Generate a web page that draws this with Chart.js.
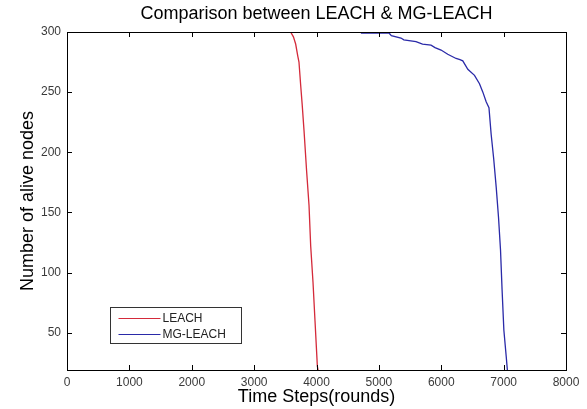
<!DOCTYPE html>
<html>
<head>
<meta charset="utf-8">
<script src="https://cdn.jsdelivr.net/npm/chart.js@4/dist/chart.umd.min.js"></script>
<style>
    body { margin: 0; background: #fff; }
    canvas { display: block; }
</style>
</head>
<body>
<canvas id="chart" width="587" height="409"></canvas>
<script>
// Values
const chartTitle = "Comparison between LEACH & MG-LEACH";
const xTitle = "Time Steps(rounds)";
const yTitle = "Number of alive nodes";
const seriesNames = ["LEACH", "MG-LEACH"];
const seriesColors = ["#d42a3a", "#2a2aa8"];

const leachRounds = [3585, 3630, 3666, 3700, 3719, 3746, 3770, 3800, 3842, 3880, 3907, 3944, 3976, 4014, 4025];
const leachAlive  = [300,  296,  290,  280,  275,  256,  240,  218,  184,  156,  122,  92,   60,   22,   19];

const mgRounds = [4711, 5166, 5200, 5354, 5400, 5595, 5700, 5836, 5900, 5997, 6104, 6238, 6300, 6345, 6426, 6533, 6613, 6667, 6720, 6765, 6800, 6840, 6881, 6918, 6950, 6975, 7004, 7042, 7060];
const mgAlive  = [299,  299,  297,  295,  293.5, 292, 290,  289,  287,  285,  281.5, 278, 277,  276,  269,  264,  257,  250,  242,  237,  215,  195,  171,  146,  119,  86,   52,   30,   19];

const xTicks = [0, 1000, 2000, 3000, 4000, 5000, 6000, 7000, 8000];
const yTicks = [50, 100, 150, 200, 250, 300];

const fontFamily = "'Liberation Sans', Arial, sans-serif";

function toPoints(xs, ys) {
    return xs.map((x, i) => ({ x: x, y: ys[i] }));
}

// Box round the axes with MATLAB-style inward ticks
const axesBox = {
    id: "axesBox",
    afterDraw(chart) {
        const ctx = chart.ctx;
        const a = chart.chartArea;
        const xs = chart.scales.x;
        const ys = chart.scales.y;
        const tick = 5;
        ctx.save();
        ctx.strokeStyle = "#000";
        ctx.lineWidth = 1;
        ctx.strokeRect(Math.round(a.left) + 0.5, Math.round(a.top) + 0.5,
            Math.round(a.right - a.left), Math.round(a.bottom - a.top));
        ctx.beginPath();
        xs.ticks.forEach(t => {
            const px = Math.round(xs.getPixelForValue(t.value)) + 0.5;
            ctx.moveTo(px, a.bottom); ctx.lineTo(px, a.bottom - tick);
            ctx.moveTo(px, a.top); ctx.lineTo(px, a.top + tick);
        });
        ys.ticks.forEach(t => {
            const py = Math.round(ys.getPixelForValue(t.value)) + 0.5;
            ctx.moveTo(a.left, py); ctx.lineTo(a.left + tick, py);
            ctx.moveTo(a.right, py); ctx.lineTo(a.right - tick, py);
        });
        ctx.stroke();
        ctx.restore();
    }
};

// Legend box in the lower left of the plot
const boxLegend = {
    id: "boxLegend",
    afterDraw(chart) {
        const ctx = chart.ctx;
        const a = chart.chartArea;
        const bx = Math.round(a.left + 43) + 0.5;
        const by = Math.round(a.bottom - 63) + 0.5;
        const bw = 131, bh = 36;
        ctx.save();
        ctx.fillStyle = "#fff";
        ctx.fillRect(bx, by, bw, bh);
        ctx.strokeStyle = "#333";
        ctx.lineWidth = 1;
        ctx.strokeRect(bx, by, bw, bh);
        ctx.font = "12px " + fontFamily;
        ctx.textBaseline = "middle";
        seriesNames.forEach((name, i) => {
            const ry = Math.round(by + 10 + i * 16.5) + 0.5;
            ctx.strokeStyle = seriesColors[i];
            ctx.lineWidth = 1.2;
            ctx.beginPath();
            ctx.moveTo(bx + 8, ry);
            ctx.lineTo(bx + 50, ry);
            ctx.stroke();
            ctx.fillStyle = "#222";
            ctx.fillText(name, bx + 52, ry);
        });
        ctx.restore();
    }
};

const ctx = document.getElementById("chart").getContext("2d");
new Chart(ctx, {
    type: "scatter",
    data: {
        datasets: [
            {
                label: seriesNames[0],
                data: toPoints(leachRounds, leachAlive),
                showLine: true,
                borderColor: seriesColors[0],
                borderWidth: 1.3,
                pointRadius: 0,
                tension: 0
            },
            {
                label: seriesNames[1],
                data: toPoints(mgRounds, mgAlive),
                showLine: true,
                borderColor: seriesColors[1],
                borderWidth: 1.3,
                pointRadius: 0,
                tension: 0
            }
        ]
    },
    options: {
        responsive: false,
        animation: false,
        layout: { padding: { left: 0, right: 21, top: 0, bottom: 0 } },
        plugins: {
            legend: { display: false },
            tooltip: { enabled: false },
            title: {
                display: true,
                text: chartTitle,
                fullSize: false,
                color: "#000",
                font: { family: fontFamily, size: 18, weight: "normal" },
                padding: { top: 3, bottom: 7.4 }
            }
        },
        scales: {
            x: {
                type: "linear",
                min: 0,
                max: 8000,
                afterBuildTicks: s => { s.ticks = xTicks.map(v => ({ value: v })); },
                afterFit: s => { s.height = 39; },
                grid: { display: false, drawTicks: false },
                border: { display: false },
                ticks: {
                    padding: 5,
                    maxRotation: 0,
                    color: "#3a3a3a",
                    font: { family: fontFamily, size: 12 },
                    callback: v => String(v)
                },
                title: {
                    display: true,
                    text: xTitle,
                    color: "#000",
                    font: { family: fontFamily, size: 18 },
                    padding: { top: 0, bottom: 1 }
                }
            },
            y: {
                type: "linear",
                min: 19,
                max: 300,
                afterBuildTicks: s => { s.ticks = yTicks.map(v => ({ value: v })); },
                afterFit: s => { s.width = 67; },
                grid: { display: false, drawTicks: false },
                border: { display: false },
                ticks: {
                    padding: 6,
                    color: "#3a3a3a",
                    font: { family: fontFamily, size: 12 },
                    callback: v => String(v)
                },
                title: {
                    display: true,
                    text: yTitle,
                    color: "#000",
                    font: { family: fontFamily, size: 18 },
                    padding: { top: 17, bottom: 0 }
                }
            }
        }
    },
    plugins: [axesBox, boxLegend]
});
</script>
</body>
</html>
